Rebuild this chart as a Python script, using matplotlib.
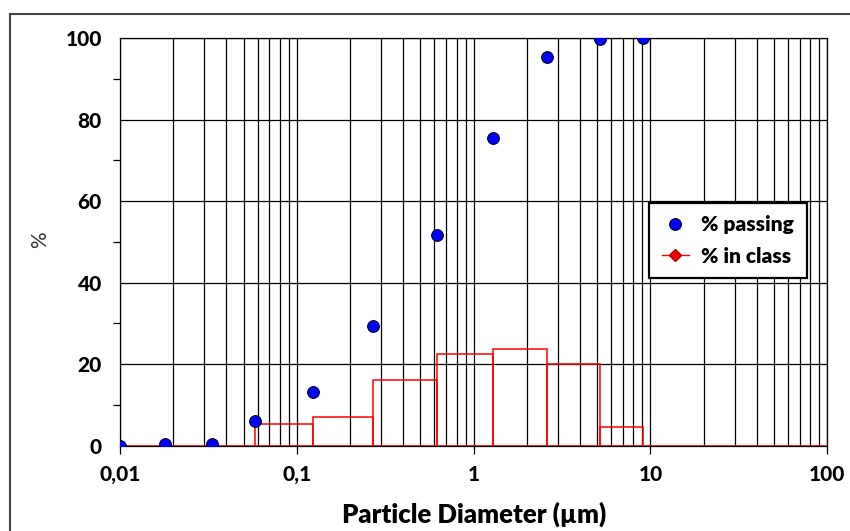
import numpy as np
import matplotlib
matplotlib.use('Agg')
import matplotlib.pyplot as plt
from matplotlib.lines import Line2D
from matplotlib.ticker import FixedLocator, FixedFormatter, LogLocator, NullFormatter

# Данные
diameter = [0.01, 0.018, 0.033, 0.058, 0.124, 0.269, 0.621, 1.28, 2.59, 5.17, 9.12]
passing = [0.0, 0.5, 0.5, 6.0, 13.1, 29.4, 51.6, 75.5, 95.3, 99.7, 100.0]
# % in class: высота ступеньки между соседними диаметрами (последняя до 100 мкм)
class_edges = diameter + [100.0]
in_class = [0.0, 0.0, 0.0, 5.4, 7.0, 16.0, 22.4, 23.7, 20.0, 4.6, 0.0]

x_ticks = [0.01, 0.1, 1, 10, 100]
x_tick_labels = ['0,01', '0,1', '1', '10', '100']
y_ticks = [0, 20, 40, 60, 80, 100]

plt.rcParams['font.family'] = ['Lato', 'DejaVu Sans']

fig = plt.figure(figsize=(8.5, 5.31), dpi=100)
ax = fig.add_axes([120 / 850, 1 - 445.7 / 531, (827.3 - 120) / 850, (445.7 - 38) / 531])

# рамка вокруг рисунка (видны только левая и верхняя стороны)
fig.add_artist(Line2D([10 / 850, 10 / 850], [0, 1 - 14 / 531], transform=fig.transFigure,
                      color='#444444', lw=1.5))
fig.add_artist(Line2D([10 / 850, 1], [1 - 14 / 531, 1 - 14 / 531], transform=fig.transFigure,
                      color='#444444', lw=1.5))

# ступеньки "% in class"
edges = np.array(class_edges)
ax.bar(edges[:-1], in_class, width=np.diff(edges), align='edge', fill=False,
       edgecolor='red', linewidth=1.1, zorder=3)

# точки "% passing"
ax.plot(diameter, passing, 'o', color='blue', markeredgecolor='black',
        markeredgewidth=0.7, markersize=8.5, zorder=4)

ax.set_xscale('log')
ax.set_xlim(0.01, 100)
ax.set_ylim(0, 100)

ax.xaxis.set_major_locator(FixedLocator(x_ticks))
ax.xaxis.set_major_formatter(FixedFormatter(x_tick_labels))
ax.xaxis.set_minor_locator(LogLocator(base=10, subs=np.arange(2, 10)))
ax.xaxis.set_minor_formatter(NullFormatter())
ax.set_yticks(y_ticks)
ax.set_yticks([10, 30, 50, 70, 90], minor=True)

ax.grid(True, which='both', axis='x', color='black', linewidth=0.9)
ax.grid(True, which='major', axis='y', color='black', linewidth=0.9)
ax.set_axisbelow(True)

ax.tick_params(axis='x', which='major', length=6, width=0.9, pad=8,
               labelsize=15)
ax.tick_params(axis='x', which='minor', length=0)
ax.tick_params(axis='y', which='major', length=0, pad=13, labelsize=15)
ax.tick_params(axis='y', which='minor', length=5, width=0.9)
for lab in ax.get_xticklabels() + ax.get_yticklabels():
    lab.set_fontweight('black')
for sp in ax.spines.values():
    sp.set_color('black')
    sp.set_linewidth(0.9)

ax.set_xlabel('Particle Diameter (µm)', fontsize=18.5, fontweight='heavy')
ax.xaxis.set_label_coords(0.5, -(514 - 445.7) / 407.7)
ax.xaxis.label.set_va('center')
ax.set_ylabel('%', fontsize=15, color='#333333')
ax.yaxis.set_label_coords((40 - 120) / 707.3, (445.7 - 240) / 407.7)
ax.yaxis.label.set_va('center')

handles = [
    Line2D([], [], linestyle='none', marker='o', color='blue', markeredgecolor='black',
           markeredgewidth=0.7, markersize=8.5),
    Line2D([], [], color='red', linewidth=1.0, marker='D', markerfacecolor='red',
           markeredgecolor='#aa0000', markersize=6),
]
leg = ax.legend(handles, ['% passing', '% in class'], loc='upper left',
                bbox_to_anchor=((649.3 - 120) / 707.3, (445.7 - 202.7) / 407.7),
                prop={'weight': 'heavy', 'size': 15}, frameon=True, fancybox=False,
                borderpad=0.6, handlelength=1.3, handletextpad=0.6, labelspacing=0.6,
                borderaxespad=0)
leg.get_frame().set_edgecolor('black')
leg.get_frame().set_linewidth(1.6)
leg.get_frame().set_alpha(1)
leg.set_zorder(5)

fig.savefig('out.png', dpi=100)
